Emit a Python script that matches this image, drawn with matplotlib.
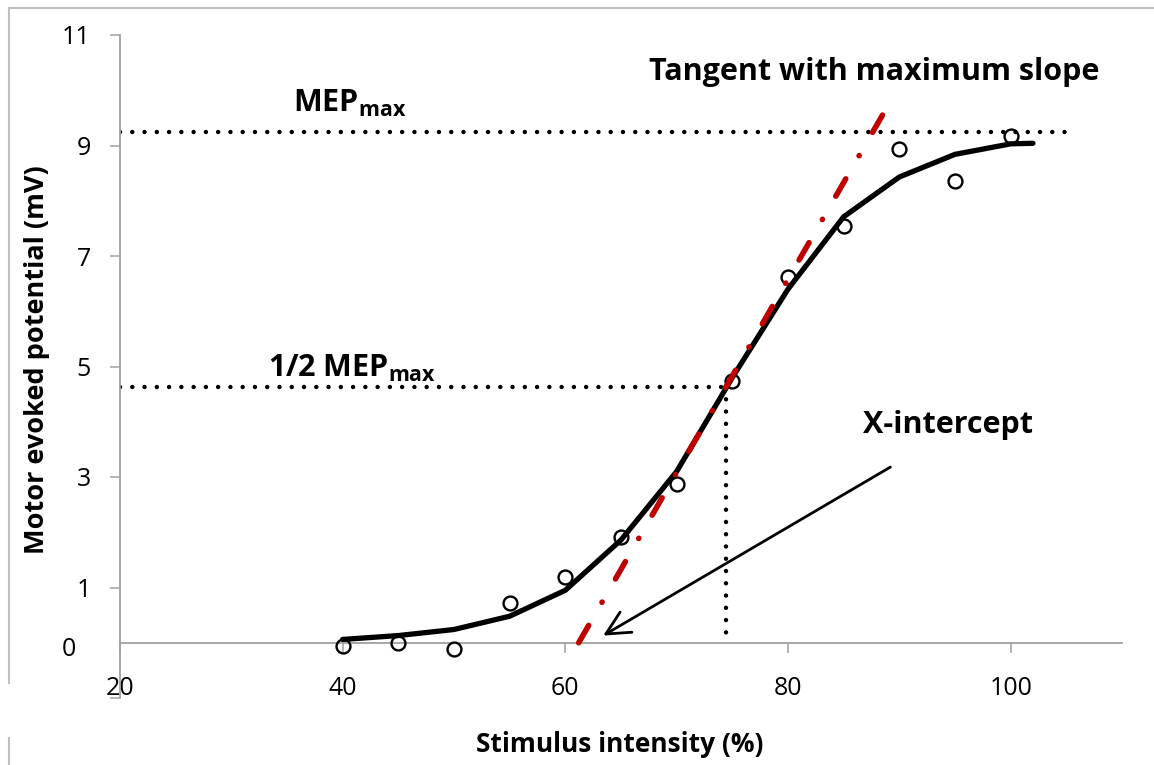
"""
MEP recruitment curve: observed MEPs, sigmoid fit, tangent at max slope.
"""
import matplotlib
matplotlib.use('Agg')
import matplotlib.pyplot as plt
from matplotlib.lines import Line2D

# observed MEP amplitudes (mV) per stimulus intensity (%)
STIM = [40, 45, 50, 55, 60, 65, 70, 75, 80, 85, 90, 95, 100]
MEP_OBS = [-0.05, 0.0, -0.11, 0.72, 1.19, 1.92, 2.88, 4.74, 6.62, 7.54, 8.93, 8.35, 9.17]

# fitted curve
FIT_X = [40, 45, 50, 55, 60, 65, 70, 75, 80, 85, 90, 95, 100, 102]
FIT_Y = [0.06, 0.13, 0.24, 0.48, 0.95, 1.86, 3.10, 4.80, 6.40, 7.71, 8.43, 8.84, 9.03, 9.04]

# tangent with maximum slope
TAN_X = [61.2, 89.2]
TAN_Y = [0.0, 9.8]

MEP_MAX = 9.24
MEP_HALF = 4.63
S50 = 74.4
MEP_MAX_XEND = 105

ARROW_FROM = (89.2, 3.18)
ARROW_TO = (63.4, 0.13)

X_TICKS = [20, 40, 60, 80, 100]
Y_TICKS = [-1, 1, 3, 5, 7, 9, 11]
Y_TICKLABELS = ['', '1', '3', '5', '7', '9', '11']

FONT = 'Open Sans'
AXIS_GREY = '#A0A0A0'
RED = '#C00000'

plt.rcParams.update({
    'font.family': FONT,
    'mathtext.fontset': 'custom',
    'mathtext.rm': FONT,
    'mathtext.bf': FONT + ':bold',
})

fig = plt.figure(figsize=(11.54, 7.65), dpi=100)
ax = fig.add_axes([120 / 1154, 1 - 698 / 765, (1122 - 120) / 1154, (698 - 35) / 765])
ax.set_xlim(20, 110)
ax.set_ylim(-1, 11)

for s in ['top', 'right']:
    ax.spines[s].set_visible(False)
ax.spines['left'].set_color(AXIS_GREY)
ax.spines['bottom'].set_color(AXIS_GREY)
ax.spines['bottom'].set_position(('data', 0))
ax.spines['left'].set_linewidth(1.3)
ax.spines['bottom'].set_linewidth(1.3)

ax.set_xticks(X_TICKS)
ax.set_yticks(Y_TICKS)
ax.set_yticklabels(Y_TICKLABELS)
ax.tick_params(axis='x', direction='out', length=7, width=1.1, color=AXIS_GREY,
               labelsize=18, pad=17)
ax.tick_params(axis='y', direction='out', length=7, width=1.1, color=AXIS_GREY,
               labelsize=18, pad=14)
# lone "0" label next to the x axis
ax.text(-0.044, -0.13, '0', transform=ax.get_yaxis_transform(), ha='right', va='center',
        fontsize=18)

dot = dict(color='black', linewidth=3.2, linestyle=(0, (0.01, 2.75)), dash_capstyle='round')
ax.plot([20, MEP_MAX_XEND], [MEP_MAX, MEP_MAX], **dot, zorder=2)
ax.plot([20, S50], [MEP_HALF, MEP_HALF], **dot, zorder=2)
ax.plot([S50, S50], [MEP_HALF, 0.1], **dot, zorder=2)

ax.plot(FIT_X, FIT_Y, color='black', linewidth=3.8, solid_capstyle='round',
        solid_joinstyle='round', zorder=3)
ax.plot(STIM, MEP_OBS, linestyle='none', marker='o', markersize=10,
        markerfacecolor='none', markeredgecolor='black', markeredgewidth=1.7, zorder=4)
ax.plot(TAN_X, TAN_Y, color=RED, linewidth=4.0, linestyle=(0, (3.6, 4.8, 0.05, 4.8)),
        dash_capstyle='round', zorder=5)

ax.annotate('', xy=ARROW_TO, xytext=ARROW_FROM,
            arrowprops=dict(arrowstyle='->', color='black', lw=2.0, mutation_scale=42,
                            shrinkA=0, shrinkB=0))

ax.text(87.7, 10.33, 'Tangent with maximum slope', ha='center', va='center',
        fontsize=22, fontweight='bold')
ax.text(35.5, 9.76, r'MEP$_{\mathbf{max}}$', ha='left', va='center',
        fontsize=22, fontweight='bold')
ax.text(33.3, 4.97, r'1/2 MEP$_{\mathbf{max}}$', ha='left', va='center',
        fontsize=22, fontweight='bold')
ax.text(86.7, 3.94, 'X-intercept', ha='left', va='center',
        fontsize=22, fontweight='bold')

fig.text(37 / 1154, 1 - 360 / 765, 'Motor evoked potential (mV)', rotation=90,
         ha='center', va='center', fontsize=19.5, fontweight='bold')
fig.text(620 / 1154, 1 - 745 / 765, 'Stimulus intensity (%)', ha='center', va='center',
         fontsize=19, fontweight='bold')

# outer chart-area border (top and left edges visible)
border = dict(color='#BFBFBF', linewidth=1.5, transform=fig.transFigure)
fig.add_artist(Line2D([9 / 1154, 1], [1 - 8 / 765, 1 - 8 / 765], **border))
fig.add_artist(Line2D([9 / 1154, 9 / 1154], [1 - 8 / 765, 1 - 683 / 765], **border))
fig.add_artist(Line2D([9 / 1154, 9 / 1154], [1 - 738 / 765, 0], **border))

fig.savefig('out.png', dpi=100)
